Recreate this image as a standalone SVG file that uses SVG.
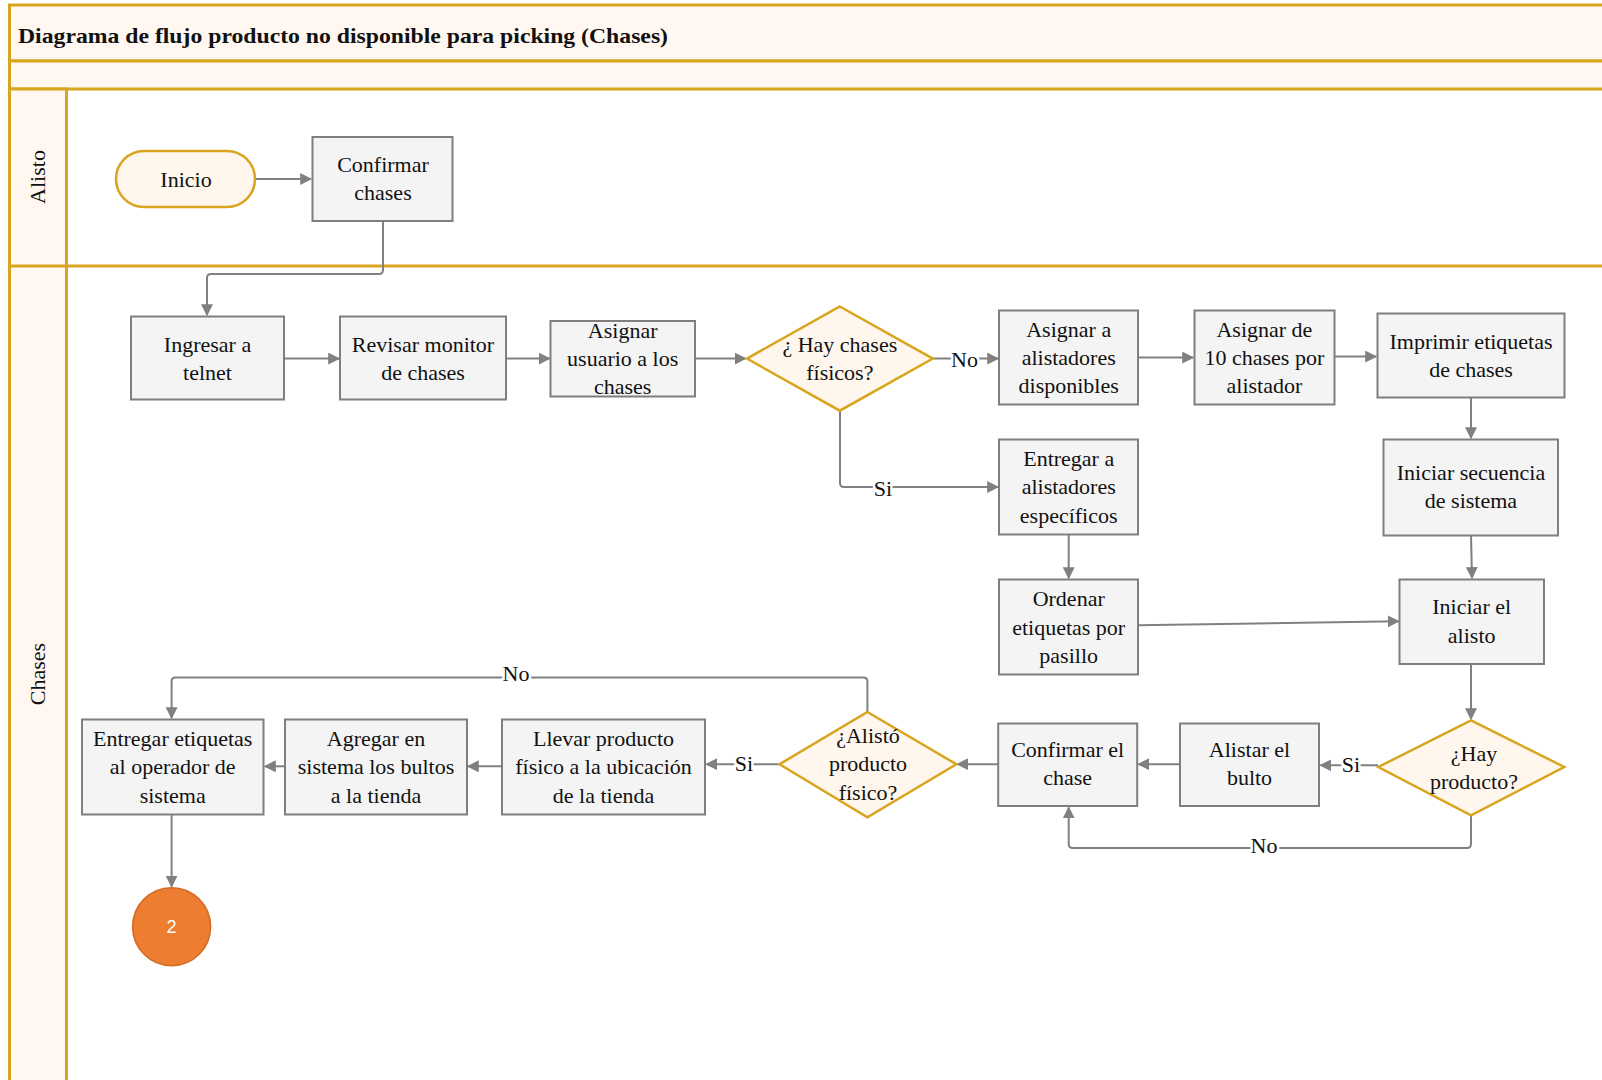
<svg xmlns="http://www.w3.org/2000/svg" width="1602" height="1080" viewBox="0 0 1602 1080">
  <style>
    .band { fill: #FFF7F0; stroke: #D9A51E; stroke-width: 3; }
    .lane { fill: none; stroke: #D9A51E; stroke-width: 3; }
    .box { fill: #F4F4F4; stroke: #7F7F7F; stroke-width: 2; }
    .dec { fill: #FFF7EE; stroke: #D9A51E; stroke-width: 2.5; }
    .term { fill: #FFF7EE; stroke: #D9A51E; stroke-width: 2.5; }
    .conn { fill: none; stroke: #808080; stroke-width: 2; marker-end: url(#arrow); }
    .t { font-family: "Liberation Serif", "Times New Roman", serif; font-size: 22px; fill: #111; text-anchor: middle; }
    .lbl { font-family: "Liberation Serif", "Times New Roman", serif; font-size: 22px; fill: #111; text-anchor: middle; stroke: #FFFFFF; stroke-width: 5; paint-order: stroke; }
    .title { font-family: "Liberation Serif", "Times New Roman", serif; font-size: 21px; font-weight: bold; fill: #111; }
  </style>
  <defs>
    <marker id="arrow" viewBox="0 0 10 10" refX="9" refY="5" markerWidth="6" markerHeight="6" markerUnits="strokeWidth" orient="auto">
      <path d="M0,0 L10,5 L0,10 Z" fill="#808080"/>
    </marker>
  </defs>

  <rect width="1602" height="1080" fill="#FFFFFF"/>

  <!-- pool frame -->
  <g id="pool">
    <rect class="band" x="9.5" y="5" width="1600" height="56"/>
    <text class="title" x="18" y="43" textLength="650" lengthAdjust="spacingAndGlyphs">Diagrama de flujo producto no disponible para picking (Chases)</text>
    <rect class="band" x="9.5" y="61" width="1600" height="28"/>
    <rect class="band" x="9.5" y="89" width="57" height="1000"/>
    <line class="lane" x1="66" y1="266" x2="1610" y2="266"/>
    <line class="lane" x1="9.5" y1="266" x2="66" y2="266"/>
    <text class="t" transform="translate(45,177) rotate(-90)">Alisto</text>
    <text class="t" transform="translate(45,674) rotate(-90)">Chases</text>
  </g>

  <!-- connectors -->
  <g id="connectors">
    <line class="conn" x1="256" y1="179" x2="311" y2="179"/>
    <path class="conn" d="M383,221 V270 Q383,274 379,274 H211 Q207,274 207,278 V315"/>
    <line class="conn" x1="284" y1="358.6" x2="339" y2="358.6"/>
    <line class="conn" x1="506" y1="358.6" x2="549.5" y2="358.6"/>
    <line class="conn" x1="695" y1="358.6" x2="745.5" y2="358.6"/>
    <line class="conn" x1="933" y1="358.6" x2="998" y2="358.6"/>
    <path class="conn" d="M840,411 V483 Q840,487 844,487 H998"/>
    <line class="conn" x1="1138" y1="357.6" x2="1193" y2="357.6"/>
    <line class="conn" x1="1334" y1="356.6" x2="1376" y2="356.6"/>
    <line class="conn" x1="1471" y1="397.5" x2="1471" y2="438"/>
    <line class="conn" x1="1471" y1="535.5" x2="1472" y2="578"/>
    <line class="conn" x1="1068.7" y1="534.5" x2="1068.7" y2="578"/>
    <line class="conn" x1="1138" y1="625.3" x2="1398.5" y2="621.2"/>
    <line class="conn" x1="1471" y1="664.5" x2="1471" y2="719"/>
    <line class="conn" x1="1378" y1="765.3" x2="1320.5" y2="765.3"/>
    <path class="conn" d="M1471,815.5 V844 Q1471,848 1467,848 H1072.7 Q1068.7,848 1068.7,844 V807.5"/>
    <line class="conn" x1="1180" y1="764.2" x2="1138.5" y2="764.2"/>
    <line class="conn" x1="998" y1="764.2" x2="957.5" y2="764.2"/>
    <line class="conn" x1="779.5" y1="764.2" x2="706.5" y2="764.2"/>
    <path class="conn" d="M867.4,712 V681.4 Q867.4,677.4 863.4,677.4 H175.6 Q171.6,677.4 171.6,681.4 V718"/>
    <line class="conn" x1="501.5" y1="766.3" x2="468" y2="766.3"/>
    <line class="conn" x1="285" y1="766.3" x2="265" y2="766.3"/>
    <line class="conn" x1="171.6" y1="814.5" x2="171.6" y2="886.5"/>
    <text class="lbl" x="964.5" y="367">No</text>
    <text class="lbl" x="883" y="496">Si</text>
    <text class="lbl" x="1351" y="772">Si</text>
    <text class="lbl" x="1264" y="853">No</text>
    <text class="lbl" x="744" y="771">Si</text>
    <text class="lbl" x="516" y="681">No</text>
  </g>

  <!-- nodes -->
  <g id="n-inicio">
    <rect class="term" x="116" y="151" width="139" height="56" rx="28" ry="28"/>
    <text class="t" x="186" y="186.5">Inicio</text>
  </g>
  <g id="n-confirmar-chases">
    <rect class="box" x="312.5" y="137" width="140" height="84"/>
    <text class="t" x="383" y="172">Confirmar</text>
    <text class="t" x="383" y="200">chases</text>
  </g>
  <g id="n-ingresar-telnet">
    <rect class="box" x="131" y="316.5" width="153" height="83"/>
    <text class="t" x="207.5" y="352">Ingresar a</text>
    <text class="t" x="207.5" y="380">telnet</text>
  </g>
  <g id="n-revisar-monitor">
    <rect class="box" x="340" y="316.5" width="166" height="83"/>
    <text class="t" x="423" y="352">Revisar monitor</text>
    <text class="t" x="423" y="380">de chases</text>
  </g>
  <g id="n-asignar-usuario">
    <rect class="box" x="550.5" y="321" width="144.5" height="75.5"/>
    <text class="t" x="622.7" y="338">Asignar</text>
    <text class="t" x="622.7" y="366">usuario a los</text>
    <text class="t" x="622.7" y="394">chases</text>
  </g>
  <g id="n-hay-chases">
    <polygon class="dec" points="839.8,306.5 932.8,358.6 839.8,410.7 746.9,358.6"/>
    <text class="t" x="839.8" y="352">¿ Hay chases</text>
    <text class="t" x="839.8" y="380">físicos?</text>
  </g>
  <g id="n-asignar-alistadores">
    <rect class="box" x="999" y="310.5" width="139" height="94"/>
    <text class="t" x="1068.7" y="337">Asignar a</text>
    <text class="t" x="1068.7" y="365">alistadores</text>
    <text class="t" x="1068.7" y="393">disponibles</text>
  </g>
  <g id="n-asignar-10">
    <rect class="box" x="1194.5" y="310.5" width="140" height="94"/>
    <text class="t" x="1264.4" y="337">Asignar de</text>
    <text class="t" x="1264.4" y="365">10 chases por</text>
    <text class="t" x="1264.4" y="393">alistador</text>
  </g>
  <g id="n-imprimir">
    <rect class="box" x="1377.5" y="313.5" width="187" height="84"/>
    <text class="t" x="1471" y="349">Imprimir etiquetas</text>
    <text class="t" x="1471" y="377">de chases</text>
  </g>
  <g id="n-entregar-especificos">
    <rect class="box" x="999" y="439.5" width="139" height="95"/>
    <text class="t" x="1068.7" y="466">Entregar a</text>
    <text class="t" x="1068.7" y="494">alistadores</text>
    <text class="t" x="1068.7" y="523">específicos</text>
  </g>
  <g id="n-iniciar-secuencia">
    <rect class="box" x="1383.5" y="439.5" width="174.5" height="96"/>
    <text class="t" x="1471" y="480">Iniciar secuencia</text>
    <text class="t" x="1471" y="508">de sistema</text>
  </g>
  <g id="n-ordenar">
    <rect class="box" x="999" y="579.5" width="139" height="95"/>
    <text class="t" x="1068.7" y="606">Ordenar</text>
    <text class="t" x="1068.7" y="635">etiquetas por</text>
    <text class="t" x="1068.7" y="663">pasillo</text>
  </g>
  <g id="n-iniciar-alisto">
    <rect class="box" x="1399.5" y="579.5" width="144.5" height="84.5"/>
    <text class="t" x="1471.7" y="614">Iniciar el</text>
    <text class="t" x="1471.7" y="643">alisto</text>
  </g>
  <g id="n-hay-producto">
    <polygon class="dec" points="1471,720.3 1564.2,767 1471,815.3 1378.3,767"/>
    <text class="t" x="1474" y="761">¿Hay</text>
    <text class="t" x="1474" y="789">producto?</text>
  </g>
  <g id="n-alistar-bulto">
    <rect class="box" x="1180" y="723.5" width="139" height="82.5"/>
    <text class="t" x="1249.5" y="757">Alistar el</text>
    <text class="t" x="1249.5" y="785">bulto</text>
  </g>
  <g id="n-confirmar-chase">
    <rect class="box" x="998.2" y="723.5" width="139" height="82.5"/>
    <text class="t" x="1067.7" y="757">Confirmar el</text>
    <text class="t" x="1067.7" y="785">chase</text>
  </g>
  <g id="n-alisto-producto">
    <polygon class="dec" points="867.4,712 956.3,764.2 867.4,817.4 779.6,764.2"/>
    <text class="t" x="868" y="743">¿Alistó</text>
    <text class="t" x="868" y="771">producto</text>
    <text class="t" x="868" y="800">físico?</text>
  </g>
  <g id="n-llevar-producto">
    <rect class="box" x="502" y="719.5" width="203" height="95"/>
    <text class="t" x="603.5" y="746">Llevar producto</text>
    <text class="t" x="603.5" y="774">físico a la ubicación</text>
    <text class="t" x="603.5" y="803">de la tienda</text>
  </g>
  <g id="n-agregar-sistema">
    <rect class="box" x="285" y="719.5" width="182" height="95"/>
    <text class="t" x="376" y="746">Agregar en</text>
    <text class="t" x="376" y="774">sistema los bultos</text>
    <text class="t" x="376" y="803">a la tienda</text>
  </g>
  <g id="n-entregar-operador">
    <rect class="box" x="82" y="719.5" width="181.5" height="95"/>
    <text class="t" x="172.7" y="746">Entregar etiquetas</text>
    <text class="t" x="172.7" y="774">al operador de</text>
    <text class="t" x="172.7" y="803">sistema</text>
  </g>
  <g id="n-conector-2">
    <circle cx="171.6" cy="926.7" r="39" fill="#ED7D31" stroke="#D56A23" stroke-width="1.5"/>
    <text x="171.6" y="933" font-family="'Liberation Sans', Arial, sans-serif" font-size="18" fill="#FFFFFF" text-anchor="middle">2</text>
  </g>
</svg>
